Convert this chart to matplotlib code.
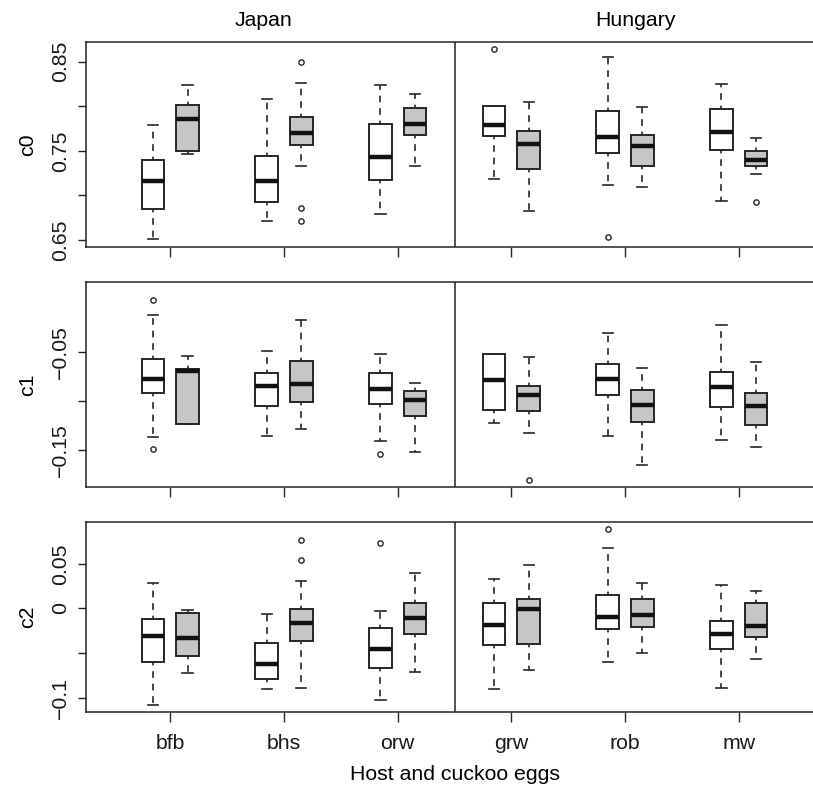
import matplotlib.pyplot as plt

plt.rcParams['font.family'] = ['Liberation Sans', 'DejaVu Sans']
plt.rcParams['font.size'] = 15.3

groups = ['bfb', 'bhs', 'orw', 'grw', 'rob', 'mw']
regions = ['Japan', 'Hungary']

# five-number summaries per group: whisker low, Q1, median, Q3, whisker high
c0_host = [
    (0.6515, 0.6851, 0.7164, 0.7399, 0.7787),
    (0.6709, 0.6922, 0.7160, 0.7437, 0.8078),
    (0.6795, 0.7175, 0.7433, 0.7802, 0.8235),
    (0.7190, 0.7668, 0.7787, 0.8007, 0.8007),
    (0.7112, 0.7474, 0.7653, 0.7948, 0.8552),
    (0.6940, 0.7507, 0.7716, 0.7966, 0.8246),
]
c0_cuckoo = [
    (0.7470, 0.7496, 0.7858, 0.8019, 0.8235),
    (0.7328, 0.7571, 0.7698, 0.7884, 0.8265),
    (0.7328, 0.7679, 0.7802, 0.7978, 0.8138),
    (0.6821, 0.7295, 0.7575, 0.7728, 0.8049),
    (0.7090, 0.7328, 0.7560, 0.7683, 0.7996),
    (0.7243, 0.7325, 0.7403, 0.7504, 0.7649),
]
c0_host_out = [[], [], [], [0.8638], [0.6530], []]
c0_cuckoo_out = [[], [0.8496, 0.6858, 0.6709], [], [], [], [0.6929]]

c1_host = [
    (-0.1364, -0.0913, -0.0770, -0.0572, -0.0118),
    (-0.1353, -0.1043, -0.0841, -0.0712, -0.0486),
    (-0.1404, -0.1029, -0.0872, -0.0708, -0.0514),
    (-0.1220, -0.1090, -0.0780, -0.0517, -0.0517),
    (-0.1350, -0.0937, -0.0776, -0.0613, -0.0299),
    (-0.1391, -0.1053, -0.0852, -0.0701, -0.0220),
]
c1_cuckoo = [
    (-0.1234, -0.1227, -0.0691, -0.0667, -0.0534),
    (-0.1282, -0.1002, -0.0821, -0.0585, -0.0169),
    (-0.1517, -0.1152, -0.0985, -0.0896, -0.0811),
    (-0.1319, -0.1097, -0.0930, -0.0838, -0.0548),
    (-0.1654, -0.1206, -0.1032, -0.0879, -0.0660),
    (-0.1469, -0.1237, -0.1046, -0.0913, -0.0602),
]
c1_host_out = [[0.0036, -0.1490], [], [-0.1538], [], [], []]
c1_cuckoo_out = [[], [], [], [-0.1807], [], []]

c2_host = [
    (-0.1085, -0.0598, -0.0310, -0.0120, 0.0284),
    (-0.0901, -0.0785, -0.0617, -0.0385, -0.0064),
    (-0.1021, -0.0666, -0.0449, -0.0217, -0.0026),
    (-0.0901, -0.0408, -0.0183, 0.0056, 0.0325),
    (-0.0602, -0.0232, -0.0093, 0.0146, 0.0680),
    (-0.0886, -0.0453, -0.0292, -0.0142, 0.0266),
]
c2_cuckoo = [
    (-0.0726, -0.0535, -0.0333, -0.0056, -0.0015),
    (-0.0890, -0.0370, -0.0165, -0.0007, 0.0303),
    (-0.0711, -0.0288, -0.0108, 0.0060, 0.0400),
    (-0.0688, -0.0393, -0.0011, 0.0105, 0.0483),
    (-0.0501, -0.0213, -0.0075, 0.0101, 0.0280),
    (-0.0565, -0.0318, -0.0194, 0.0060, 0.0198),
]
c2_host_out = [[], [], [0.0733], [], [0.0890], []]
c2_cuckoo_out = [[], [0.0767, 0.0542], [], [], [], []]


def to_stats(five, out):
    return [dict(whislo=a, q1=b, med=c, q3=d, whishi=e, fliers=f)
            for (a, b, c, d, e), f in zip(five, out)]


W, H = 813, 786
fig = plt.figure(figsize=(W / 100, H / 100), dpi=100)

edge = '#262626'
panels = [
    ('c0', c0_host, c0_cuckoo, c0_host_out, c0_cuckoo_out, (0.6422, 0.8721),
     [0.65, 0.70, 0.75, 0.80, 0.85], ['0.65', '', '0.75', '', '0.85'], 42, 247),
    ('c1', c1_host, c1_cuckoo, c1_host_out, c1_cuckoo_out, (-0.1875, 0.022),
     [-0.15, -0.10, -0.05], ['\u22120.15', '', '\u22120.05'], 282, 487),
    ('c2', c2_host, c2_cuckoo, c2_host_out, c2_cuckoo_out, (-0.116, 0.0968),
     [-0.1, -0.05, 0.0, 0.05], ['\u22120.1', '', '0', '0.05'], 522, 712),
]

pos = list(range(1, len(groups) + 1))
for i, (name, host, cuck, hout, cout, ylim, yt, ytl, top, bot) in enumerate(panels):
    ax = fig.add_axes([86 / W, 1 - bot / H, (823 - 86) / W, (bot - top) / H])
    for five, out, dx, fc in [(host, hout, -0.152, 'white'),
                              (cuck, cout, 0.152, '#c6c6c6')]:
        ax.bxp(to_stats(five, out), positions=[p + dx for p in pos],
               widths=0.2, capwidths=0.09, patch_artist=True,
               boxprops=dict(facecolor=fc, edgecolor=edge, lw=1.4),
               medianprops=dict(color='#111111', lw=3.2, solid_capstyle='butt'),
               whiskerprops=dict(color=edge, lw=1.2, linestyle=(2, (4, 3.5))),
               capprops=dict(color=edge, lw=1.2),
               flierprops=dict(marker='o', markersize=3.8, markerfacecolor='none',
                               markeredgecolor=edge, markeredgewidth=1.0))
    ax.axvline(3.5, color=edge, lw=1.1)
    ax.set_xlim(0.2586, 6.741)
    ax.set_ylim(*ylim)
    ax.set_yticks(yt, ytl, rotation=90, va='center')
    ax.set_xticks(pos, groups if i == 2 else [''] * len(groups))
    ax.tick_params(axis='y', length=5.5, width=1.0, pad=6, colors=edge, labelcolor='#1a1a1a')
    ax.tick_params(axis='x', length=7.5, width=1.0, pad=8, colors=edge, labelcolor='#1a1a1a')
    for s in ax.spines.values():
        s.set_color(edge)
        s.set_linewidth(1.1)
    ax.set_ylabel(name, va='center')
    ax.yaxis.set_label_coords((28 - 86) / (823 - 86), 0.5)

fig.text(263 / W, 1 - 20.5 / H, regions[0], ha='center', va='center')
fig.text(635 / W, 1 - 20.5 / H, regions[1], ha='center', va='center')
fig.text(454.5 / W, 1 - 774 / H, 'Host and cuckoo eggs', ha='center', va='center')

fig.savefig('out.png', dpi=100)
